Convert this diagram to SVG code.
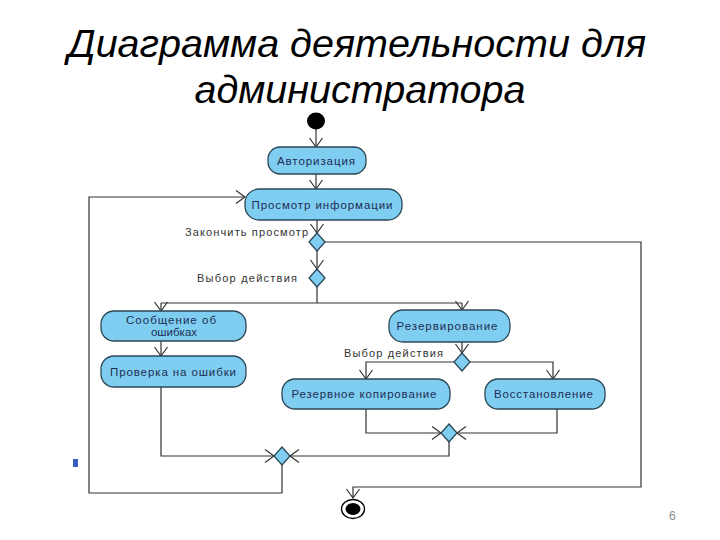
<svg xmlns="http://www.w3.org/2000/svg" width="720" height="540" viewBox="0 0 720 540">
<style>
.title{font-family:"Liberation Sans",Arial,sans-serif;font-style:italic;font-size:39.5px;fill:#000}
.node rect{fill:#7fcdf0;stroke:#2b4756;stroke-width:1.3}
.dia{fill:#7fcdf0;stroke:#2b4756;stroke-width:1.3}
.nt{font-family:"Liberation Sans",Arial,sans-serif;font-size:11.5px;fill:#1d2d55;text-anchor:middle}
.lbl{font-family:"Liberation Sans",Arial,sans-serif;font-size:11px;fill:#333}
.edge{fill:none;stroke:#333;stroke-width:1.2}
.pg{font-family:"Liberation Sans",Arial,sans-serif;font-size:12px;fill:#8a8a8a}
</style>
<defs>
<marker id="arr" markerUnits="userSpaceOnUse" markerWidth="12" markerHeight="16" refX="10" refY="8" orient="auto">
<path d="M1,1.5 L10,8 L1,14.5" fill="none" stroke="#333" stroke-width="1.2"/>
</marker>
</defs>
<rect width="720" height="540" fill="#fff"/>
<text class="title" x="357" y="57" text-anchor="middle">Диаграмма деятельности для</text>
<text class="title" x="360" y="103" text-anchor="middle">администратора</text>

<g id="connectors">
<path class="edge" d="M316,129 L316,147" marker-end="url(#arr)"/>
<path class="edge" d="M316,174 L316,189" marker-end="url(#arr)"/>
<path class="edge" d="M317,220 L317,233" marker-end="url(#arr)"/>
<path class="edge" d="M325,242 L641,242 L641,487 L353,487 L353,498" marker-end="url(#arr)"/>
<path class="edge" d="M317,251 L317,269" marker-end="url(#arr)"/>
<path class="edge" d="M317,287 L317,303"/>
<path class="edge" d="M161,303 L462,303"/>
<path class="edge" d="M161,303 L161,311" marker-end="url(#arr)"/>
<path class="edge" d="M462,303 L462,310" marker-end="url(#arr)"/>
<path class="edge" d="M161,341 L161,356" marker-end="url(#arr)"/>
<path class="edge" d="M462,342 L462,353" marker-end="url(#arr)"/>
<path class="edge" d="M454,362 L366,362 L366,379" marker-end="url(#arr)"/>
<path class="edge" d="M470,362 L553,362 L553,379" marker-end="url(#arr)"/>
<path class="edge" d="M366,409 L366,433 L441,433" marker-end="url(#arr)"/>
<path class="edge" d="M557,409 L557,433 L457,433" marker-end="url(#arr)"/>
<path class="edge" d="M449,442 L449,456 L290,456" marker-end="url(#arr)"/>
<path class="edge" d="M161,387 L161,456 L274,456" marker-end="url(#arr)"/>
<path class="edge" d="M282,465 L282,493 L89,493 L89,197 L245,197" marker-end="url(#arr)"/>
</g>

<g id="start"><ellipse cx="316" cy="121" rx="9" ry="8.5" fill="#000"/></g>

<g id="n-auth" class="node"><rect x="268" y="147" width="98" height="27" rx="12"/><text class="nt" x="316" y="164.5" textLength="78" lengthAdjust="spacing">Авторизация</text></g>
<g id="n-view" class="node"><rect x="245" y="189" width="157" height="31" rx="14"/><text class="nt" x="322" y="208.5" textLength="141" lengthAdjust="spacing">Просмотр информации</text></g>

<g id="d-end"><polygon class="dia" points="317,233 325,242 317,251 309,242"/><text class="lbl" x="185" y="236" textLength="123" lengthAdjust="spacing">Закончить просмотр</text></g>
<g id="d-choice"><polygon class="dia" points="317,269 325,278 317,287 309,278"/><text class="lbl" x="197" y="282" textLength="100" lengthAdjust="spacing">Выбор действия</text></g>

<g id="n-msg" class="node"><rect x="101" y="311" width="145" height="30" rx="13"/><text class="nt" x="171" y="324" textLength="90" lengthAdjust="spacing">Сообщение об</text><text class="nt" x="174" y="336">ошибках</text></g>
<g id="n-check" class="node"><rect x="101" y="356" width="145" height="31" rx="13"/><text class="nt" x="173" y="375.5" textLength="126" lengthAdjust="spacing">Проверка на ошибки</text></g>

<g id="n-res" class="node"><rect x="389" y="310" width="121" height="32" rx="14"/><text class="nt" x="447" y="330" textLength="101" lengthAdjust="spacing">Резервирование</text></g>
<g id="d-choice2"><polygon class="dia" points="462,353 470,362 462,371 454,362"/><text class="lbl" x="344" y="357" textLength="99" lengthAdjust="spacing">Выбор действия</text></g>

<g id="n-backup" class="node"><rect x="282" y="379" width="168" height="30" rx="13"/><text class="nt" x="364" y="398" textLength="145" lengthAdjust="spacing">Резервное копирование</text></g>
<g id="n-restore" class="node"><rect x="485" y="379" width="120" height="30" rx="13"/><text class="nt" x="543.5" y="398" textLength="99" lengthAdjust="spacing">Восстановление</text></g>

<g id="d-join1"><polygon class="dia" points="449,424 457,433 449,442 441,433"/></g>
<g id="d-join2"><polygon class="dia" points="282,447 290,456 282,465 274,456"/></g>

<g id="final"><ellipse cx="353" cy="509" rx="11.5" ry="9.5" fill="#fff" stroke="#000" stroke-width="1.3"/><ellipse cx="353" cy="509" rx="7.5" ry="6" fill="#000"/></g>

<rect x="73" y="459" width="5" height="8" fill="#3a5fc0"/>
<text class="pg" x="669" y="520">6</text>
</svg>
